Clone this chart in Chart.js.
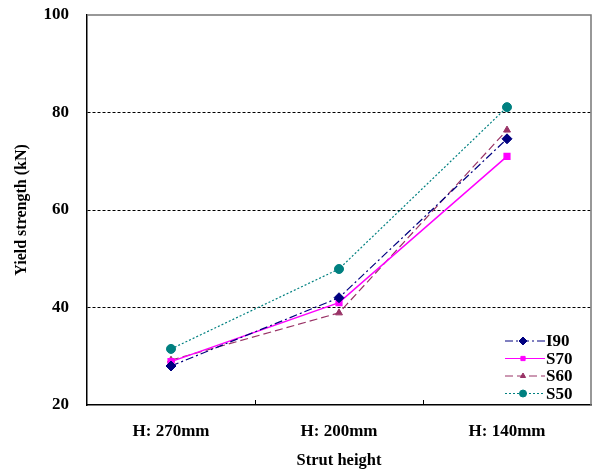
<!DOCTYPE html>
<html>
<head>
<meta charset="utf-8">
<script src="https://cdn.jsdelivr.net/npm/chart.js@4.4.0/dist/chart.umd.min.js"></script>
<style>
  body { margin: 0; background: #fff; }
  #wrap { width: 592px; height: 472px; }
</style>
</head>
<body>
<div id="wrap"><canvas id="myChart" width="592" height="472"></canvas></div>
<script>
const categories = ["H: 270mm", "H: 200mm", "H: 140mm"];
const i90 = [28, 42, 74.6];
const s70 = [28.9, 41, 71];
const s60 = [29.2, 38.9, 76.4];
const s50 = [31.5, 47.9, 81.1];
const yTicks = [20, 40, 60, 80, 100];

const serif = "'Liberation Serif', 'Times New Roman', serif";

// frame, inner tick marks and legend drawn on top
const extras = {
  id: "extras",
  afterDraw(chart) {
    const c = chart.ctx;
    const a = chart.chartArea;
    c.save();
    c.strokeStyle = "#777";
    c.lineWidth = 1.5;
    c.beginPath();
    c.moveTo(a.left, a.top);
    c.lineTo(a.right, a.top);
    c.lineTo(a.right, a.bottom);
    c.stroke();

    // category boundary ticks pointing inward
    const x = chart.scales.x;
    c.strokeStyle = "#000";
    c.lineWidth = 1;
    for (let i = 1; i < categories.length; i++) {
      const px = Math.round((x.getPixelForValue(i - 1) + x.getPixelForValue(i)) / 2) + 0.5;
      c.beginPath();
      c.moveTo(px, a.bottom);
      c.lineTo(px, a.bottom - 5);
      c.stroke();
    }

    // legend
    let ly = 341;
    chart.data.datasets.forEach((ds) => {
      c.strokeStyle = ds.borderColor;
      c.lineWidth = 1;
      c.setLineDash(ds.borderDash || []);
      c.beginPath();
      c.moveTo(505, ly);
      c.lineTo(545, ly);
      c.stroke();
      c.setLineDash([]);
      c.fillStyle = ds.backgroundColor;
      Chart.helpers.drawPoint(c, { pointStyle: ds.pointStyle, radius: ds.pointRadius - 1, rotation: 0, borderWidth: 1 }, 523, ly);
      c.fillStyle = "#000";
      c.font = "bold 17px " + serif;
      c.textBaseline = "middle";
      c.textAlign = "left";
      c.fillText(ds.label, 546, ly + 1);
      ly += 17.5;
    });
    c.restore();
  }
};

const config = {
  type: "line",
  data: {
    labels: categories,
    datasets: [
      { label: "I90", data: i90, borderColor: "#000080", backgroundColor: "#000080", borderDash: [8, 3, 2, 3], pointStyle: "rectRot", pointRadius: 5 },
      { label: "S70", data: s70, borderColor: "#ff00ff", backgroundColor: "#ff00ff", pointStyle: "rect", pointRadius: 4, borderWidth: 1.5 },
      { label: "S60", data: s60, borderColor: "#993366", backgroundColor: "#993366", borderDash: [8, 4], pointStyle: "triangle", pointRadius: 4 },
      { label: "S50", data: s50, borderColor: "#008080", backgroundColor: "#008080", borderDash: [2, 2], pointStyle: "circle", pointRadius: 4.5 }
    ]
  },
  options: {
    responsive: false,
    animation: false,
    layout: { autoPadding: false, padding: { top: 15, right: 1, left: 0, bottom: 0 } },
    elements: {
      line: { borderWidth: 1.2, tension: 0 },
      point: { borderWidth: 1 }
    },
    plugins: {
      legend: { display: false },
      tooltip: { enabled: false }
    },
    scales: {
      x: {
        offset: true,
        grid: { display: false, drawTicks: false },
        border: { color: "#000", width: 1.5 },
        ticks: { color: "#000", padding: 16, font: { family: serif, size: 17, weight: "bold" }, maxRotation: 0 },
        title: { display: true, text: "Strut height", color: "#000", font: { family: serif, size: 16.5, weight: "bold" }, padding: { top: 4, bottom: 1 } },
        afterFit(scale) { scale.height = 67; scale.paddingLeft = 0; scale.paddingRight = 0; }
      },
      y: {
        min: 20,
        max: 100,
        afterBuildTicks(scale) { scale.ticks = yTicks.map((v) => ({ value: v })); },
        grid: {
          drawTicks: false,
          color: (ctx) => (ctx.tick && (ctx.tick.value === 20 || ctx.tick.value === 100)) ? "rgba(0,0,0,0)" : "#000",
          lineWidth: 1
        },
        border: { color: "#000", width: 1.5, dash: [3, 2] },
        ticks: { color: "#000", padding: 18, font: { family: serif, size: 17, weight: "bold" } },
        title: { display: true, text: "Yield strength (kN)", color: "#000", font: { family: serif, size: 16, weight: "bold" }, padding: { top: 12, bottom: 0 } },
        afterFit(scale) { scale.width = 87; scale.paddingTop = 0; scale.paddingBottom = 0; }
      }
    }
  },
  plugins: [extras]
};

const chart = new Chart(document.getElementById("myChart"), config);
</script>
</body>
</html>
